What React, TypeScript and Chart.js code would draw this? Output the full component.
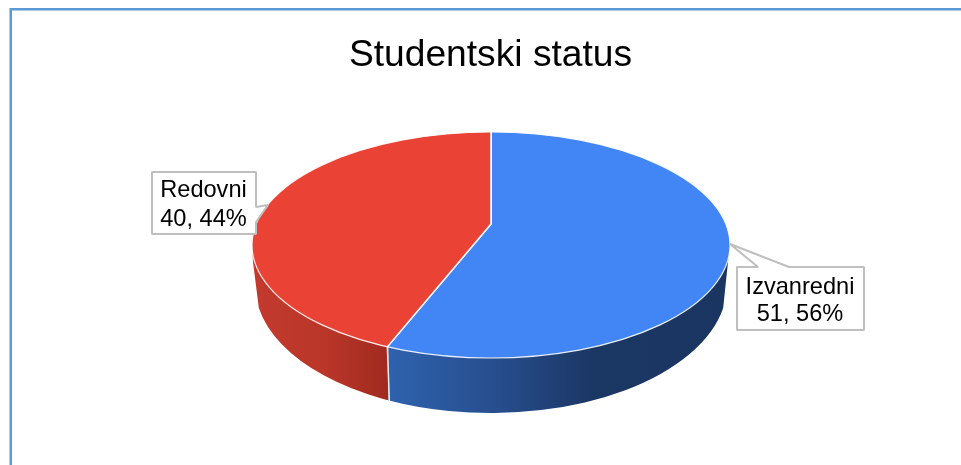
import React, { useEffect, useRef } from "react";
import { Chart, registerables } from "chart.js";

Chart.register(...registerables);

const categories = ["Izvanredni", "Redovni"];
const values = [51, 40];
const topColors = ["#4285F4", "#EA4335"];
const chartTitle = "Studentski status";

const FONT = '"Liberation Sans", Arial, sans-serif';

const geom = { cx: 491, cy: 245, rx: 239, ry: 113, apexY: 224, s: 0.473, rx2: 236, cy2: 285, ry2: 128 };

const piePlugin = {
  id: "pie3d",
  beforeDraw(chart: any) {
    const ctx = chart.ctx;
    ctx.save();
    ctx.fillStyle = "#fff";
    ctx.fillRect(0, 0, chart.width, chart.height);
    ctx.fillStyle = "#5B9BD5";
    ctx.fillRect(10, 8, 951, 2);
    ctx.fillRect(10, 8, 2, 457);
    ctx.fillStyle = "#A9CBE9";
    ctx.fillRect(12, 10, 949, 1);
    ctx.fillRect(9, 8, 1, 457);
    ctx.restore();
  },
  beforeDatasetsDraw(chart: any) {
    const ctx = chart.ctx;
    const g = geom;
    const arcs = chart.getDatasetMeta(0).data;
    // boundary between slices on the rim, from the controller's computed angle
    const th = arcs[0].endAngle;
    const dx = Math.cos(th), dy = g.s * Math.sin(th);
    const oy = g.apexY - g.cy;
    const A = (dx * dx) / (g.rx * g.rx) + (dy * dy) / (g.ry * g.ry);
    const B = (2 * dy * oy) / (g.ry * g.ry);
    const C = (oy * oy) / (g.ry * g.ry) - 1;
    const t = (-B + Math.sqrt(B * B - 4 * A * C)) / (2 * A);
    const bx = g.cx + dx * t, by = g.apexY + dy * t;
    const bx2 = bx + 2, by2 = by + 55;

    const wall = () => {
      ctx.beginPath();
      ctx.moveTo(g.cx + g.rx, g.cy);
      ctx.lineTo(g.cx + g.rx - 2, g.cy + 17);
      ctx.ellipse(g.cx, g.cy2, g.rx2, g.ry2, 0, 0.18, Math.PI - 0.18);
      ctx.lineTo(g.cx - g.rx + 1, g.cy + 17);
      ctx.lineTo(g.cx - g.rx, g.cy);
      ctx.closePath();
    };
    const blue = ctx.createLinearGradient(bx, 0, g.cx + g.rx, 0);
    blue.addColorStop(0, "#2F62AE");
    blue.addColorStop(0.3, "#274F90");
    blue.addColorStop(0.6, "#1B3764");
    blue.addColorStop(1, "#1A3560");
    const red = ctx.createLinearGradient(g.cx - g.rx, 0, bx, 0);
    red.addColorStop(0, "#C23A2D");
    red.addColorStop(0.55, "#B93629");
    red.addColorStop(1, "#A12A1F");

    ctx.save();
    ctx.beginPath();
    ctx.rect(bx - 1000, 0, 1000 + (bx2 - bx) / 2, chart.height);
    ctx.clip();
    wall();
    ctx.fillStyle = red;
    ctx.fill();
    ctx.restore();
    ctx.save();
    ctx.beginPath();
    ctx.rect((bx + bx2) / 2, 0, 1000, chart.height);
    ctx.clip();
    wall();
    ctx.fillStyle = blue;
    ctx.fill();
    ctx.restore();

    ctx.save();
    ctx.strokeStyle = "rgba(255,255,255,0.9)";
    ctx.lineWidth = 1.5;
    ctx.beginPath();
    ctx.moveTo(bx, by);
    ctx.lineTo(bx2, by2);
    ctx.stroke();
    ctx.restore();

    // top face: the library's arcs, flattened and clipped to the rim
    const el = arcs[0];
    ctx.save();
    ctx.beginPath();
    ctx.ellipse(g.cx, g.cy, g.rx, g.ry, 0, 0, Math.PI * 2);
    ctx.clip();
    ctx.translate(g.cx, g.apexY);
    ctx.scale(1, g.s);
    ctx.translate(-el.x, -el.y);
  },
  afterDatasetsDraw(chart: any) {
    const ctx = chart.ctx;
    const g = geom;
    ctx.restore();
    ctx.save();
    ctx.strokeStyle = "rgba(255,255,255,0.9)";
    ctx.lineWidth = 1.2;
    ctx.beginPath();
    ctx.ellipse(g.cx, g.cy, g.rx, g.ry, 0, 0, Math.PI * 2);
    ctx.stroke();
    ctx.restore();
  },
  afterDraw(chart: any) {
    const ctx = chart.ctx;
    const total = values.reduce((a, b) => a + b, 0);
    const text = (i: number) => [categories[i], `${values[i]}, ${Math.round((values[i] / total) * 100)}%`];
    const callout = (i: number, pts: number[][], tcx: number, b1: number, b2: number) => {
      ctx.save();
      ctx.beginPath();
      pts.forEach((p, k) => (k ? ctx.lineTo(p[0], p[1]) : ctx.moveTo(p[0], p[1])));
      ctx.closePath();
      ctx.fillStyle = "#fff";
      ctx.fill();
      ctx.strokeStyle = "#BFBFBF";
      ctx.lineWidth = 2;
      ctx.lineJoin = "bevel";
      ctx.stroke();
      ctx.fillStyle = "#000";
      ctx.font = `23.6px ${FONT}`;
      ctx.textAlign = "center";
      ctx.textBaseline = "alphabetic";
      const [l1, l2] = text(i);
      ctx.fillText(l1, tcx, b1);
      ctx.fillText(l2, tcx, b2);
      ctx.restore();
    };
    callout(1, [[152, 172], [256, 172], [256, 207], [268, 205], [256, 222], [256, 234], [152, 234]], 203.5, 197, 226);
    callout(0, [[737, 267], [758, 267], [730, 244], [789, 267], [864, 267], [864, 330], [737, 330]], 800, 294, 321);
  },
};

export default function App() {
  const ref = useRef<HTMLCanvasElement>(null);
  useEffect(() => {
    document.body.style.margin = "0";
    const chart = new Chart(ref.current as HTMLCanvasElement, {
      type: "pie",
      data: {
        labels: categories,
        datasets: [
          {
            data: values,
            backgroundColor: topColors,
            borderColor: "rgba(255,255,255,0.9)",
            borderWidth: 1.8,
            clip: false,
          } as any,
        ],
      },
      options: {
        responsive: false,
        animation: false,
        radius: 340,
        layout: { padding: { left: 20, top: 25 } },
        plugins: {
          legend: { display: false },
          tooltip: { enabled: false },
          title: {
            display: true,
            text: chartTitle,
            color: "#000",
            font: { family: FONT, size: 37.2, weight: "normal" },
            padding: { top: 8, bottom: 10 },
          },
        },
      } as any,
      plugins: [piePlugin],
    });
    return () => chart.destroy();
  }, []);
  return <canvas ref={ref} width={961} height={465} style={{ display: "block" }} />;
}
